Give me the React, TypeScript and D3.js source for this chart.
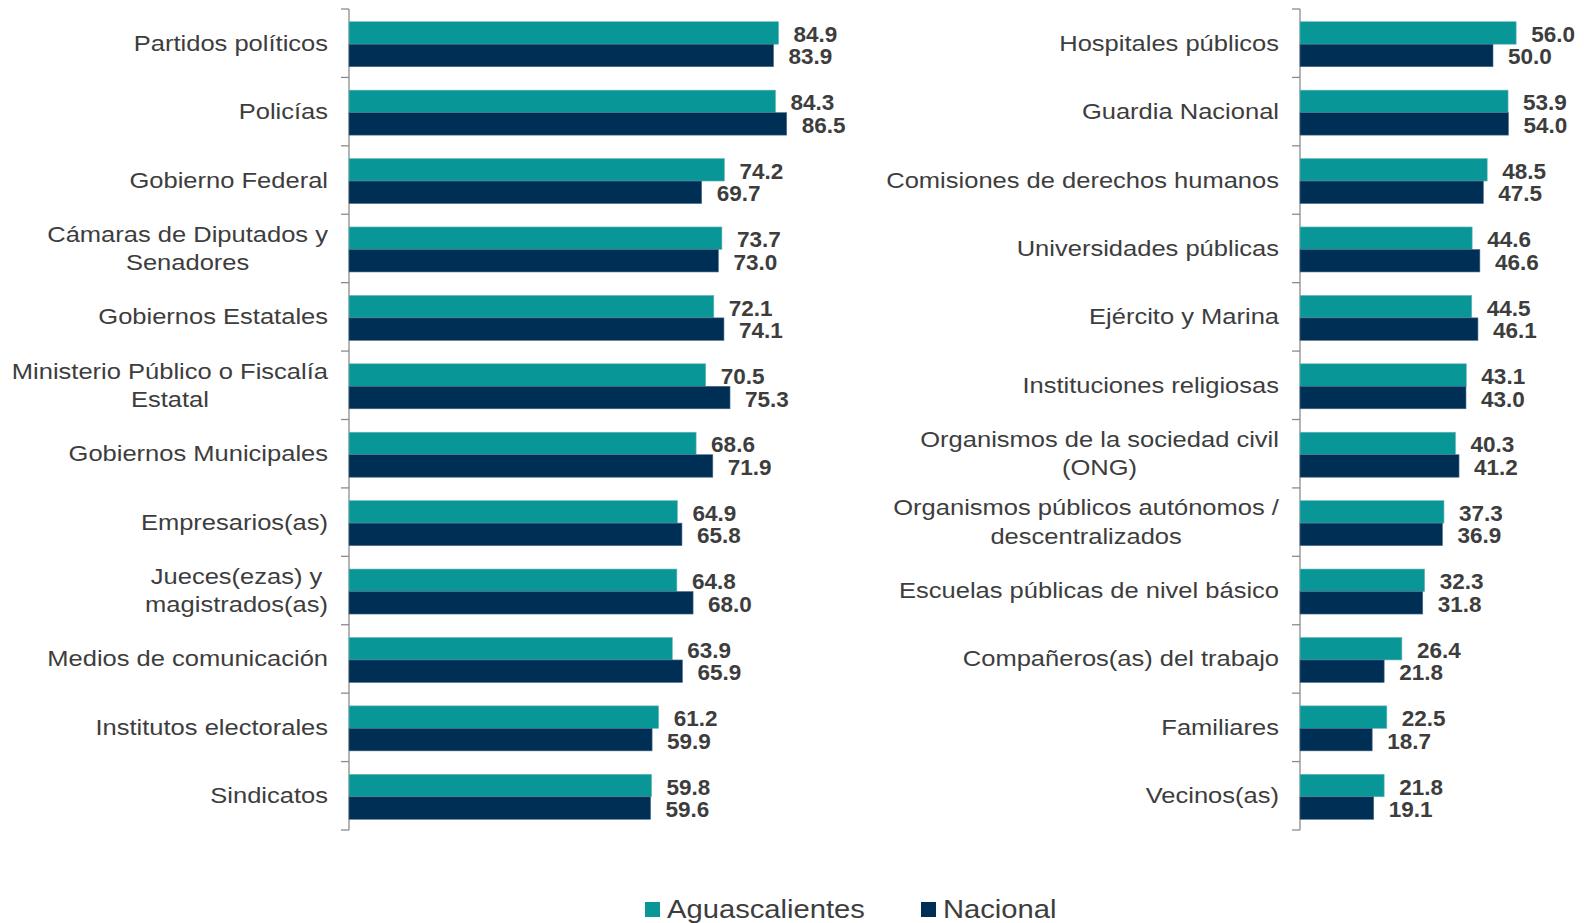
import React, { useEffect, useRef } from "react";
import * as d3 from "d3";

// left panel
const leftLabels = [
  ["Partidos políticos"],
  ["Policías"],
  ["Gobierno Federal"],
  ["Cámaras de Diputados y", "Senadores"],
  ["Gobiernos Estatales"],
  ["Ministerio Público o Fiscalía", "Estatal"],
  ["Gobiernos Municipales"],
  ["Empresarios(as)"],
  ["Jueces(ezas) y", "magistrados(as)"],
  ["Medios de comunicación"],
  ["Institutos electorales"],
  ["Sindicatos"],
];
const leftAgs = [84.9, 84.3, 74.2, 73.7, 72.1, 70.5, 68.6, 64.9, 64.8, 63.9, 61.2, 59.8];
const leftNac = [83.9, 86.5, 69.7, 73.0, 74.1, 75.3, 71.9, 65.8, 68.0, 65.9, 59.9, 59.6];

// right panel
const rightLabels = [
  ["Hospitales públicos"],
  ["Guardia Nacional"],
  ["Comisiones de derechos humanos"],
  ["Universidades públicas"],
  ["Ejército y Marina"],
  ["Instituciones religiosas"],
  ["Organismos de la sociedad civil", "(ONG)"],
  ["Organismos públicos autónomos /", "descentralizados"],
  ["Escuelas públicas de nivel básico"],
  ["Compañeros(as) del trabajo"],
  ["Familiares"],
  ["Vecinos(as)"],
];
const rightAgs = [56.0, 53.9, 48.5, 44.6, 44.5, 43.1, 40.3, 37.3, 32.3, 26.4, 22.5, 21.8];
const rightNac = [50.0, 54.0, 47.5, 46.6, 46.1, 43.0, 41.2, 36.9, 31.8, 21.8, 18.7, 19.1];

const seriesNames = ["Aguascalientes", "Nacional"];
const colors = ["#099696", "#002f56"];

const FONT = "'Liberation Sans', Arial, sans-serif";
const TEXT = "#3d3d3d";
const LABEL_SIZE = 22;

function drawPanel(svg, labels, ags, nac, axisX, pxPerUnit) {
  const top = 9, bottom = 830;
  const idx = labels.map((d, i) => i);
  const y = d3.scaleBand().domain(idx).range([top, bottom]);
  const x = d3.scaleLinear().domain([0, 100]).range([axisX, axisX + pxPerUnit * 100]);
  const groupH = 45;
  const inner = d3.scaleBand().domain([0, 1]).range([0, groupH]);

  const g = svg.append("g");

  // axis line + ticks at band edges
  g.append("line")
    .attr("x1", axisX).attr("x2", axisX)
    .attr("y1", top).attr("y2", bottom)
    .attr("stroke", "#8c8c8c").attr("stroke-width", 1.3);
  const edges = idx.map(i => y(i)).concat([bottom]);
  g.selectAll(".tick").data(edges).join("line")
    .attr("x1", axisX - 8).attr("x2", axisX)
    .attr("y1", d => d).attr("y2", d => d)
    .attr("stroke", "#8c8c8c").attr("stroke-width", 1.3);

  const rows = g.selectAll(".row").data(idx).join("g")
    .attr("transform", i => `translate(0, ${y(i) + (y.bandwidth() - groupH) / 2 + 1})`);

  rows.each(function (i) {
    const row = d3.select(this);
    const vals = [ags[i], nac[i]];
    vals.forEach((v, s) => {
      row.append("rect")
        .attr("x", axisX)
        .attr("y", inner(s))
        .attr("width", x(v) - axisX)
        .attr("height", inner.bandwidth())
        .attr("fill", colors[s])
        .attr("stroke", s === 0 ? "#6fb9bd" : "#4f6d88")
        .attr("stroke-width", 0.6);
      row.append("text")
        .attr("x", x(v) + 15)
        .attr("y", inner(s) + inner.bandwidth() / 2 + 9)
        .attr("font-family", FONT).attr("font-weight", "bold")
        .attr("font-size", 22.5).attr("fill", TEXT)
        .text(v.toFixed(1));
    });
  });

  // category labels
  idx.forEach(i => {
    const lines = labels[i];
    const cy = y(i) + y.bandwidth() / 2 + 7.5;
    lines.forEach((ln, k) => {
      const by = cy + (k - (lines.length - 1) / 2) * 28.5;
      g.append("text")
        .attr("transform", `translate(${axisX - 21}, ${by}) scale(1.16, 1)`)
        .attr("text-anchor", lines.length > 1 ? "middle" : "end")
        .attr("dx", lines.length > 1 ? -centerOffset(lines) : 0)
        .attr("font-family", FONT).attr("font-size", LABEL_SIZE).attr("fill", TEXT)
        .text(ln);
    });
  });
}

// two-line labels are centred on each other, right edge of widest line at anchor
function centerOffset(lines) {
  const w = Math.max(...lines.map(measure));
  return w / 2;
}
let ctx = null;
function measure(s) {
  if (!ctx) {
    ctx = document.createElement("canvas").getContext("2d");
    ctx.font = `${LABEL_SIZE}px ${FONT}`;
  }
  return ctx.measureText(s).width;
}

export default function App() {
  const ref = useRef(null);

  useEffect(() => {
    const svg = d3.select(ref.current);
    svg.selectAll("*").remove();
    svg.append("rect").attr("width", 1584).attr("height", 923).attr("fill", "#fff");

    drawPanel(svg, leftLabels, leftAgs, leftNac, 349, 5.06);
    drawPanel(svg, rightLabels, rightAgs, rightNac, 1300, 3.86);

    // legend
    const legendX = [645, 921];
    seriesNames.forEach((name, s) => {
      svg.append("rect")
        .attr("x", legendX[s]).attr("y", 902)
        .attr("width", 15).attr("height", 15)
        .attr("fill", colors[s]);
      svg.append("text")
        .attr("transform", `translate(${legendX[s] + 22}, 917.5) scale(1.14, 1)`)
        .attr("font-family", FONT).attr("font-size", 25.6).attr("fill", TEXT)
        .text(name);
    });
  }, []);

  return (
    <svg ref={ref} width={1584} height={923}
      style={{ position: "absolute", left: 0, top: 0, display: "block" }} />
  );
}
